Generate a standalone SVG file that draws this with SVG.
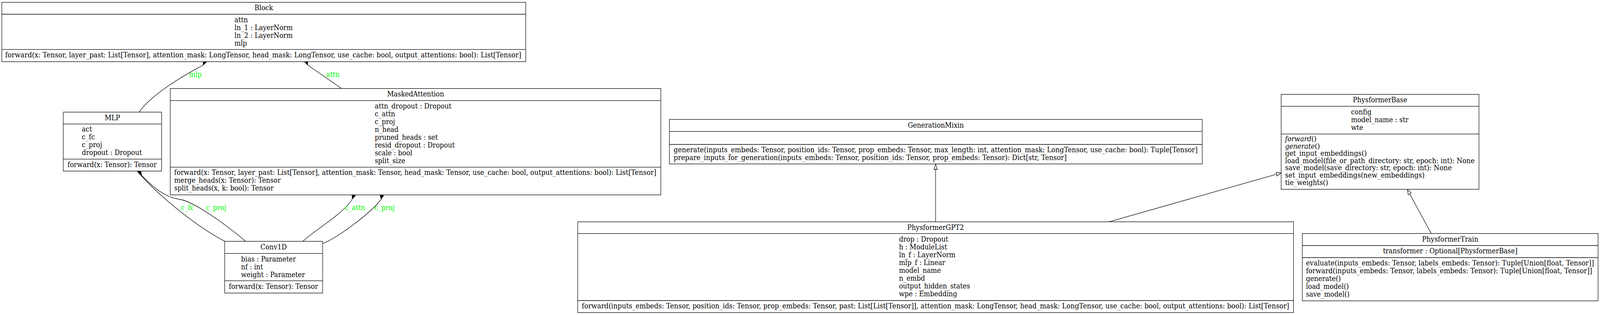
<svg xmlns="http://www.w3.org/2000/svg" width="4483" height="807" viewBox="0 0 4483 807">
<style>
.bg{fill:#fff}
.box{fill:#fff;stroke:#000;stroke-width:1.3}
.dv{stroke:#000;stroke-width:1.3}
.t{font-family:"DejaVu Serif","Liberation Serif",serif;font-size:18.4px;fill:#000}
.m{text-anchor:middle}
.lbl{font-family:"DejaVu Serif","Liberation Serif",serif;font-size:18.4px;fill:#00ff00}
.e{fill:none;stroke:#000;stroke-width:1.3}
.dia{fill:#000;stroke:#000;stroke-width:1}
.tri{fill:#fff;stroke:#000;stroke-width:1.3}
.i{font-style:italic}
</style>
<rect class="bg" x="0" y="0" width="4483" height="807"/>
<g id="diagram" transform="scale(0.9137,1)">
<g id="connectors">
  <!-- MLP -> Block (mlp) -->
  <polygon class="dia" points="579,147 578.5,159.3 569,167 569.5,154.8"/>
  <path class="e" d="M569,167 C525,188 425,240 390,287.3"/>
  <text class="lbl" x="530" y="197">mlp</text>
  <!-- MaskedAttention -> Block (attn) -->
  <polygon class="dia" points="853,147 853.5,159.3 862.5,167 862,154.8"/>
  <path class="e" d="M862.5,167 L957,226.7"/>
  <text class="lbl" x="914" y="197">attn</text>
  <!-- Conv1D -> MLP (c_fc, c_proj) -->
  <polygon class="dia" points="386,428 385.5,440.5 395,449.5 394.5,436"/>
  <polygon class="dia" points="385,429 387,441 397,449.5 394,435.5"/>
  <path class="e" d="M395,449.5 C440,495 540,575 630,618.3"/>
  <path class="e" d="M397,449.5 C430,480 460,505 505,511 C545,517 640,580 688,618.3"/>
  <text class="lbl" x="507" y="538">c_fc</text>
  <text class="lbl" x="577" y="538">c_proj</text>
  <!-- Conv1D -> MaskedAttention (c_attn, c_proj) -->
  <polygon class="dia" points="995,490 995.5,502 987,510 986,497.5"/>
  <polygon class="dia" points="1075,490 1074,502.5 1068,510.5 1064,498"/>
  <path class="e" d="M987,510 C960,550 880,590 848.5,618.3"/>
  <path class="e" d="M1068,510.5 C1035,550 940,612 904,624"/>
  <text class="lbl" x="966" y="538">c_attn</text>
  <text class="lbl" x="1049" y="538">c_proj</text>
  <!-- PhysformerGPT2 -> GenerationMixin -->
  <path class="e" d="M2621.5,568.3 L2621.5,434"/>
  <polygon class="tri" points="2621.5,420.5 2626.2,434 2616.8,434"/>
  <!-- PhysformerGPT2 -> PhysformerBase -->
  <path class="e" d="M3107,568.3 L3576.6,446.3"/>
  <polygon class="tri" points="3589.5,443 3577.8,450.9 3575.4,441.8"/>
  <!-- PhysformerTrain -> PhysformerBase -->
  <path class="e" d="M4010,598.3 L3949.8,496.9"/>
  <polygon class="tri" points="3943,485.5 3953.8,494.5 3945.8,499.3"/>
</g>

<g id="Block">
  <rect class="box" x="5" y="6" width="1468" height="152"/>
  <line class="dv" x1="5" y1="36.5" x2="1473" y2="36.5"/>
  <line class="dv" x1="5" y1="126.7" x2="1473" y2="126.7"/>
  <text class="t m" x="739" y="26.5">Block</text>
  <text class="t" x="657" y="57">attn</text>
  <text class="t" x="657" y="77">ln_1 : LayerNorm</text>
  <text class="t" x="657" y="97">ln_2 : LayerNorm</text>
  <text class="t" x="657" y="117">mlp</text>
  <text class="t" x="14.5" y="147.3" textLength="1446" lengthAdjust="spacingAndGlyphs">forward(x: Tensor, layer_past: List[Tensor], attention_mask: LongTensor, head_mask: LongTensor, use_cache: bool, output_attentions: bool): List[Tensor]</text>
</g>

<g id="MLP">
  <rect class="box" x="177.3" y="287.3" width="275.4" height="151"/>
  <line class="dv" x1="177.3" y1="317.7" x2="452.7" y2="317.7"/>
  <line class="dv" x1="177.3" y1="407.7" x2="452.7" y2="407.7"/>
  <text class="t m" x="315" y="308">MLP</text>
  <text class="t" x="229.3" y="337.5">act</text>
  <text class="t" x="229.3" y="357.5">c_fc</text>
  <text class="t" x="229.3" y="377.5">c_proj</text>
  <text class="t" x="229.3" y="397.5">dropout : Dropout</text>
  <text class="t" x="189" y="428.3" textLength="250" lengthAdjust="spacingAndGlyphs">forward(x: Tensor): Tensor</text>
</g>

<g id="MaskedAttention">
  <rect class="box" x="477" y="226.7" width="1374.5" height="272.6"/>
  <line class="dv" x1="477" y1="257.7" x2="1851.5" y2="257.7"/>
  <line class="dv" x1="477" y1="428.3" x2="1851.5" y2="428.3"/>
  <text class="t m" x="1164.3" y="247.5">MaskedAttention</text>
  <text class="t" x="1050" y="278">attn_dropout : Dropout</text>
  <text class="t" x="1050" y="298">c_attn</text>
  <text class="t" x="1050" y="318">c_proj</text>
  <text class="t" x="1050" y="338">n_head</text>
  <text class="t" x="1050" y="358">pruned_heads : set</text>
  <text class="t" x="1050" y="378">resid_dropout : Dropout</text>
  <text class="t" x="1050" y="398">scale : bool</text>
  <text class="t" x="1050" y="418">split_size</text>
  <text class="t" x="488" y="448.3" textLength="1351" lengthAdjust="spacingAndGlyphs">forward(x: Tensor, layer_past: List[Tensor], attention_mask: Tensor, head_mask: Tensor, use_cache: bool, output_attentions: bool): List[Tensor]</text>
  <text class="t" x="488" y="468.3">merge_heads(x: Tensor): Tensor</text>
  <text class="t" x="488" y="488.3">split_heads(x, k: bool): Tensor</text>
</g>

<g id="Conv1D">
  <rect class="box" x="629.5" y="618.3" width="274.5" height="132.4"/>
  <line class="dv" x1="629.5" y1="649.3" x2="904" y2="649.3"/>
  <line class="dv" x1="629.5" y1="719.3" x2="904" y2="719.3"/>
  <text class="t m" x="766.75" y="639">Conv1D</text>
  <text class="t" x="675.4" y="670">bias : Parameter</text>
  <text class="t" x="675.4" y="690">nf : int</text>
  <text class="t" x="675.4" y="710">weight : Parameter</text>
  <text class="t" x="641" y="740.5" textLength="250" lengthAdjust="spacingAndGlyphs">forward(x: Tensor): Tensor</text>
</g>

<g id="GenerationMixin">
  <rect class="box" x="1875.4" y="306" width="1493" height="114"/>
  <line class="dv" x1="1875.4" y1="336.7" x2="3368.4" y2="336.7"/>
  <line class="dv" x1="1875.4" y1="370" x2="3368.4" y2="370"/>
  <text class="t m" x="2621.9" y="326.7">GenerationMixin</text>
  <text class="t" x="1887.5" y="390.5" textLength="1468" lengthAdjust="spacingAndGlyphs">generate(inputs_embeds: Tensor, position_ids: Tensor, prop_embeds: Tensor, max_length: int, attention_mask: LongTensor, use_cache: bool): Tuple[Tensor]</text>
  <text class="t" x="1887.5" y="410.5" textLength="1101" lengthAdjust="spacingAndGlyphs">prepare_inputs_for_generation(inputs_embeds: Tensor, position_ids: Tensor, prop_embeds: Tensor): Dict[str, Tensor]</text>
</g>

<g id="PhysformerGPT2">
  <rect class="box" x="1618.6" y="568.3" width="2005.6" height="232.4"/>
  <line class="dv" x1="1618.6" y1="598.3" x2="3624.2" y2="598.3"/>
  <line class="dv" x1="1618.6" y1="770" x2="3624.2" y2="770"/>
  <text class="t m" x="2621.4" y="589">PhysformerGPT2</text>
  <text class="t" x="2518.8" y="619">drop : Dropout</text>
  <text class="t" x="2518.8" y="639">h : ModuleList</text>
  <text class="t" x="2518.8" y="659">ln_f : LayerNorm</text>
  <text class="t" x="2518.8" y="679">mlp_f : Linear</text>
  <text class="t" x="2518.8" y="699">model_name</text>
  <text class="t" x="2518.8" y="719">n_embd</text>
  <text class="t" x="2518.8" y="739">output_hidden_states</text>
  <text class="t" x="2518.8" y="759">wpe : Embedding</text>
  <text class="t" x="1630" y="790.5" textLength="1982" lengthAdjust="spacingAndGlyphs">forward(inputs_embeds: Tensor, position_ids: Tensor, prop_embeds: Tensor, past: List[List[Tensor]], attention_mask: LongTensor, head_mask: LongTensor, use_cache: bool, output_attentions: bool): List[Tensor]</text>
</g>

<g id="PhysformerBase">
  <rect class="box" x="3589.5" y="241.7" width="554.3" height="243.3"/>
  <line class="dv" x1="3589.5" y1="272.3" x2="4143.8" y2="272.3"/>
  <line class="dv" x1="3589.5" y1="343.3" x2="4143.8" y2="343.3"/>
  <text class="t m" x="3866.6" y="262.5">PhysformerBase</text>
  <text class="t" x="3785.4" y="293">config</text>
  <text class="t" x="3785.4" y="313">model_name : str</text>
  <text class="t" x="3785.4" y="333">wte</text>
  <text class="t" x="3600.5" y="362"><tspan class="i">forward</tspan>()</text>
  <text class="t" x="3600.5" y="380.6"><tspan class="i">generate</tspan>()</text>
  <text class="t" x="3600.5" y="399.2" textLength="229" lengthAdjust="spacingAndGlyphs">get_input_embeddings()</text>
  <text class="t" x="3600.5" y="417.8" textLength="531" lengthAdjust="spacingAndGlyphs">load_model(file_or_path_directory: str, epoch: int): None</text>
  <text class="t" x="3600.5" y="436.4" textLength="467" lengthAdjust="spacingAndGlyphs">save_model(save_directory: str, epoch: int): None</text>
  <text class="t" x="3600.5" y="455" textLength="391" lengthAdjust="spacingAndGlyphs">set_input_embeddings(new_embeddings)</text>
  <text class="t" x="3600.5" y="473.6">tie_weights()</text>
</g>

<g id="PhysformerTrain">
  <rect class="box" x="3648.8" y="598.3" width="828.7" height="172.4"/>
  <line class="dv" x1="3648.8" y1="629" x2="4477.5" y2="629"/>
  <line class="dv" x1="3648.8" y1="660" x2="4477.5" y2="660"/>
  <text class="t m" x="4063.2" y="619">PhysformerTrain</text>
  <text class="t m" x="4063.2" y="649.5">transformer : Optional[PhysformerBase]</text>
  <text class="t" x="3659" y="680.5" textLength="807" lengthAdjust="spacingAndGlyphs">evaluate(inputs_embeds: Tensor, labels_embeds: Tensor): Tuple[Union[float, Tensor]]</text>
  <text class="t" x="3659" y="700.5" textLength="802" lengthAdjust="spacingAndGlyphs">forward(inputs_embeds: Tensor, labels_embeds: Tensor): Tuple[Union[float, Tensor]]</text>
  <text class="t" x="3659" y="720.5">generate()</text>
  <text class="t" x="3659" y="740.5">load_model()</text>
  <text class="t" x="3659" y="760.5">save_model()</text>
</g>
</g>
</svg>
